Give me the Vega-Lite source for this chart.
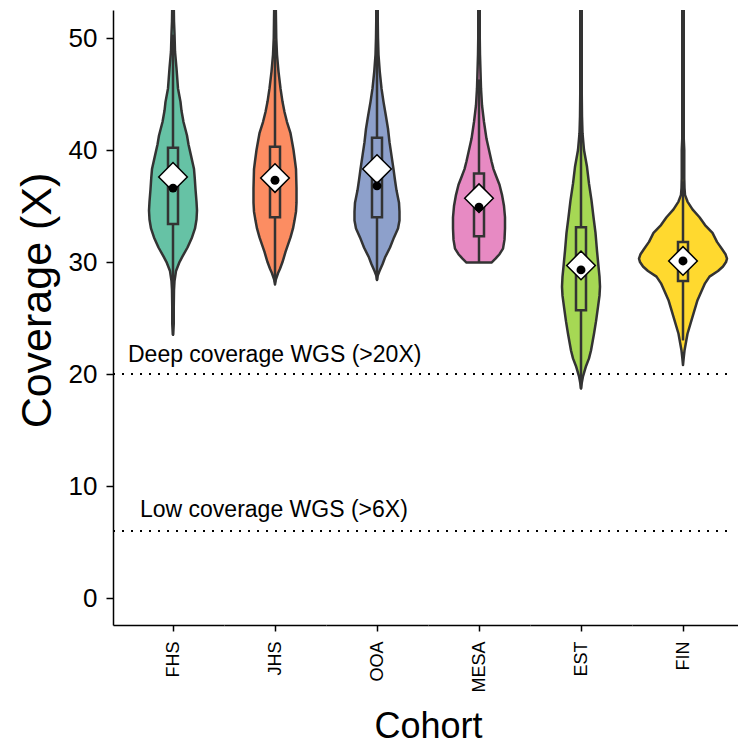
{
  "$schema": "https://vega.github.io/schema/vega-lite/v6.json",
  "padding": {"left": 16, "top": 10, "right": 0, "bottom": 0},
  "spacing": 0,
  "bounds": "flush",
  "config": {
    "font": "Liberation Sans",
    "view": {"stroke": null},
    "axis": {"grid": false},
    "axisX": {"labelAngle": -90, "labelAlign": "right", "labelBaseline": "middle", "labelFontSize": 18, "labelColor": "black", "labelPadding": 10, "tickSize": 6, "tickWidth": 1.5, "tickColor": "black", "domain": true, "domainColor": "black", "domainWidth": 1.5, "labelOverlap": false, "labelFlush": false},
    "axisY": {"labelFontSize": 26, "labelColor": "black", "titleFontSize": 43, "titleColor": "black", "titleFontWeight": "normal", "titlePadding": 9, "titleY": 290, "tickSize": 7, "tickWidth": 1.5, "tickColor": "black", "domainColor": "black", "domainWidth": 1.5, "labelPadding": 9}
  },
  "data": {
    "values": [
      {"kind":"v","cohort":"FHS","cov":23.5,"w":0},{"kind":"v","cohort":"FHS","cov":24.5,"w":1.5},{"kind":"v","cohort":"FHS","cov":26,"w":1.5},{"kind":"v","cohort":"FHS","cov":27.5,"w":2},{"kind":"v","cohort":"FHS","cov":28.3,"w":3},{"kind":"v","cohort":"FHS","cov":29.2,"w":6},{"kind":"v","cohort":"FHS","cov":30.0,"w":13},{"kind":"v","cohort":"FHS","cov":30.5,"w":19},{"kind":"v","cohort":"FHS","cov":31.3,"w":29},{"kind":"v","cohort":"FHS","cov":32.2,"w":38},{"kind":"v","cohort":"FHS","cov":33.0,"w":44},{"kind":"v","cohort":"FHS","cov":33.8,"w":47},{"kind":"v","cohort":"FHS","cov":34.6,"w":48},{"kind":"v","cohort":"FHS","cov":35.4,"w":47},{"kind":"v","cohort":"FHS","cov":36.5,"w":45},{"kind":"v","cohort":"FHS","cov":37.5,"w":43.5},{"kind":"v","cohort":"FHS","cov":38.3,"w":42},{"kind":"v","cohort":"FHS","cov":39.5,"w":36},{"kind":"v","cohort":"FHS","cov":40.5,"w":31},{"kind":"v","cohort":"FHS","cov":41.3,"w":28},{"kind":"v","cohort":"FHS","cov":42.5,"w":21},{"kind":"v","cohort":"FHS","cov":43.5,"w":17},{"kind":"v","cohort":"FHS","cov":44.3,"w":15},{"kind":"v","cohort":"FHS","cov":45.5,"w":10},{"kind":"v","cohort":"FHS","cov":47.3,"w":7},{"kind":"v","cohort":"FHS","cov":48.8,"w":4},{"kind":"v","cohort":"FHS","cov":50.4,"w":3},{"kind":"v","cohort":"FHS","cov":51.5,"w":2},{"kind":"v","cohort":"FHS","cov":53,"w":1.5},{"kind":"v","cohort":"FHS","cov":54,"w":1.5},
      {"kind":"v","cohort":"JHS","cov":28.0,"w":0},{"kind":"v","cohort":"JHS","cov":28.4,"w":1.5},{"kind":"v","cohort":"JHS","cov":29.0,"w":6},{"kind":"v","cohort":"JHS","cov":29.4,"w":10},{"kind":"v","cohort":"JHS","cov":30.0,"w":15},{"kind":"v","cohort":"JHS","cov":30.9,"w":21},{"kind":"v","cohort":"JHS","cov":32.2,"w":31},{"kind":"v","cohort":"JHS","cov":33.0,"w":36},{"kind":"v","cohort":"JHS","cov":33.7,"w":39},{"kind":"v","cohort":"JHS","cov":34.5,"w":42},{"kind":"v","cohort":"JHS","cov":35.3,"w":43},{"kind":"v","cohort":"JHS","cov":36.6,"w":43},{"kind":"v","cohort":"JHS","cov":38.3,"w":42},{"kind":"v","cohort":"JHS","cov":39.0,"w":40},{"kind":"v","cohort":"JHS","cov":40.0,"w":37},{"kind":"v","cohort":"JHS","cov":41.0,"w":33},{"kind":"v","cohort":"JHS","cov":41.5,"w":31},{"kind":"v","cohort":"JHS","cov":42.5,"w":24},{"kind":"v","cohort":"JHS","cov":43.4,"w":19},{"kind":"v","cohort":"JHS","cov":44.3,"w":15},{"kind":"v","cohort":"JHS","cov":45.5,"w":11},{"kind":"v","cohort":"JHS","cov":47.0,"w":7},{"kind":"v","cohort":"JHS","cov":48.5,"w":4},{"kind":"v","cohort":"JHS","cov":50.0,"w":2.5},{"kind":"v","cohort":"JHS","cov":51.5,"w":2},{"kind":"v","cohort":"JHS","cov":53,"w":1.5},{"kind":"v","cohort":"JHS","cov":54,"w":1.5},
      {"kind":"v","cohort":"OOA","cov":28.4,"w":0},{"kind":"v","cohort":"OOA","cov":28.8,"w":1.5},{"kind":"v","cohort":"OOA","cov":29.2,"w":5},{"kind":"v","cohort":"OOA","cov":29.8,"w":11},{"kind":"v","cohort":"OOA","cov":30.4,"w":16},{"kind":"v","cohort":"OOA","cov":31.3,"w":26},{"kind":"v","cohort":"OOA","cov":32.2,"w":34},{"kind":"v","cohort":"OOA","cov":33.0,"w":42},{"kind":"v","cohort":"OOA","cov":33.7,"w":45},{"kind":"v","cohort":"OOA","cov":34.5,"w":45},{"kind":"v","cohort":"OOA","cov":35.3,"w":44},{"kind":"v","cohort":"OOA","cov":36.4,"w":39},{"kind":"v","cohort":"OOA","cov":37.3,"w":36},{"kind":"v","cohort":"OOA","cov":38.3,"w":33},{"kind":"v","cohort":"OOA","cov":39.5,"w":29},{"kind":"v","cohort":"OOA","cov":40.7,"w":25},{"kind":"v","cohort":"OOA","cov":41.9,"w":22},{"kind":"v","cohort":"OOA","cov":43.0,"w":18},{"kind":"v","cohort":"OOA","cov":44.3,"w":13},{"kind":"v","cohort":"OOA","cov":45.5,"w":9},{"kind":"v","cohort":"OOA","cov":47.0,"w":5.5},{"kind":"v","cohort":"OOA","cov":48.5,"w":3},{"kind":"v","cohort":"OOA","cov":50.0,"w":2},{"kind":"v","cohort":"OOA","cov":51.5,"w":1.5},{"kind":"v","cohort":"OOA","cov":54,"w":1.5},
      {"kind":"v","cohort":"MESA","cov":29.95,"w":25},{"kind":"v","cohort":"MESA","cov":30.3,"w":33},{"kind":"v","cohort":"MESA","cov":30.7,"w":41},{"kind":"v","cohort":"MESA","cov":31.2,"w":48},{"kind":"v","cohort":"MESA","cov":32.0,"w":51},{"kind":"v","cohort":"MESA","cov":33.0,"w":52},{"kind":"v","cohort":"MESA","cov":34.0,"w":52},{"kind":"v","cohort":"MESA","cov":35.0,"w":50},{"kind":"v","cohort":"MESA","cov":36.0,"w":46},{"kind":"v","cohort":"MESA","cov":36.9,"w":41},{"kind":"v","cohort":"MESA","cov":37.7,"w":34},{"kind":"v","cohort":"MESA","cov":38.3,"w":29},{"kind":"v","cohort":"MESA","cov":39.0,"w":25},{"kind":"v","cohort":"MESA","cov":39.8,"w":21},{"kind":"v","cohort":"MESA","cov":41.0,"w":15},{"kind":"v","cohort":"MESA","cov":42.5,"w":10},{"kind":"v","cohort":"MESA","cov":44.0,"w":6},{"kind":"v","cohort":"MESA","cov":45.5,"w":4},{"kind":"v","cohort":"MESA","cov":47.0,"w":3},{"kind":"v","cohort":"MESA","cov":48.5,"w":2},{"kind":"v","cohort":"MESA","cov":50,"w":1.5},{"kind":"v","cohort":"MESA","cov":54,"w":1.5},
      {"kind":"v","cohort":"EST","cov":18.7,"w":0},{"kind":"v","cohort":"EST","cov":19.2,"w":1.5},{"kind":"v","cohort":"EST","cov":19.8,"w":4},{"kind":"v","cohort":"EST","cov":20.7,"w":10},{"kind":"v","cohort":"EST","cov":21.4,"w":16},{"kind":"v","cohort":"EST","cov":22.1,"w":20},{"kind":"v","cohort":"EST","cov":23.6,"w":26},{"kind":"v","cohort":"EST","cov":24.7,"w":30},{"kind":"v","cohort":"EST","cov":26.0,"w":34},{"kind":"v","cohort":"EST","cov":27.0,"w":37},{"kind":"v","cohort":"EST","cov":27.8,"w":38},{"kind":"v","cohort":"EST","cov":28.7,"w":37},{"kind":"v","cohort":"EST","cov":29.6,"w":35},{"kind":"v","cohort":"EST","cov":31.0,"w":32},{"kind":"v","cohort":"EST","cov":32.6,"w":29},{"kind":"v","cohort":"EST","cov":34.0,"w":25},{"kind":"v","cohort":"EST","cov":35.5,"w":21},{"kind":"v","cohort":"EST","cov":37.0,"w":16},{"kind":"v","cohort":"EST","cov":38.5,"w":12},{"kind":"v","cohort":"EST","cov":40.0,"w":6},{"kind":"v","cohort":"EST","cov":41.5,"w":3},{"kind":"v","cohort":"EST","cov":43.0,"w":2},{"kind":"v","cohort":"EST","cov":45,"w":1.5},{"kind":"v","cohort":"EST","cov":54,"w":1.5},
      {"kind":"v","cohort":"FIN","cov":20.8,"w":0},{"kind":"v","cohort":"FIN","cov":21.5,"w":1.5},{"kind":"v","cohort":"FIN","cov":22.1,"w":3},{"kind":"v","cohort":"FIN","cov":23.6,"w":9},{"kind":"v","cohort":"FIN","cov":25.1,"w":19},{"kind":"v","cohort":"FIN","cov":26.6,"w":29},{"kind":"v","cohort":"FIN","cov":27.5,"w":38},{"kind":"v","cohort":"FIN","cov":28.1,"w":44},{"kind":"v","cohort":"FIN","cov":28.7,"w":53},{"kind":"v","cohort":"FIN","cov":29.2,"w":70},{"kind":"v","cohort":"FIN","cov":29.6,"w":80},{"kind":"v","cohort":"FIN","cov":30.0,"w":86},{"kind":"v","cohort":"FIN","cov":30.3,"w":88},{"kind":"v","cohort":"FIN","cov":30.7,"w":85},{"kind":"v","cohort":"FIN","cov":31.1,"w":79},{"kind":"v","cohort":"FIN","cov":31.8,"w":68},{"kind":"v","cohort":"FIN","cov":32.6,"w":59},{"kind":"v","cohort":"FIN","cov":33.3,"w":44},{"kind":"v","cohort":"FIN","cov":34.0,"w":33},{"kind":"v","cohort":"FIN","cov":34.7,"w":19},{"kind":"v","cohort":"FIN","cov":35.4,"w":9},{"kind":"v","cohort":"FIN","cov":36.0,"w":4},{"kind":"v","cohort":"FIN","cov":36.6,"w":3},{"kind":"v","cohort":"FIN","cov":37.5,"w":2.5},{"kind":"v","cohort":"FIN","cov":39.0,"w":2.5},{"kind":"v","cohort":"FIN","cov":40.0,"w":2.5},{"kind":"v","cohort":"FIN","cov":41.0,"w":1.5},{"kind":"v","cohort":"FIN","cov":54,"w":1.5},
      {"kind":"b","cohort":"FHS","q1":33.4,"q3":40.2,"med":36.6,"mean":37.6,"lo":23.5,"hi":50.3},
      {"kind":"b","cohort":"JHS","q1":34.0,"q3":40.3,"med":37.3,"mean":37.5,"lo":28.2,"hi":49.8},
      {"kind":"b","cohort":"OOA","q1":34.0,"q3":41.1,"med":36.8,"mean":38.3,"lo":28.4,"hi":51.8},
      {"kind":"b","cohort":"MESA","q1":32.3,"q3":37.9,"med":34.9,"mean":35.7,"lo":30.0,"hi":46.3},
      {"kind":"b","cohort":"EST","q1":25.7,"q3":33.1,"med":29.3,"mean":29.7,"lo":18.7,"hi":44.2},
      {"kind":"b","cohort":"FIN","q1":28.3,"q3":31.8,"med":30.1,"mean":30.1,"lo":23.0,"hi":37.2},
      {"kind":"r","cohort":"FHS","value":20,"label":"Deep coverage WGS (>20X)"},
      {"kind":"r","cohort":"FHS","value":6,"label":"Low coverage WGS (>6X)"}
    ]
  },
  "hconcat": [
    {
      "width": 111, "height": 615,
      "transform": [{"filter": "datum.cohort === 'FHS'"}],
      "layer": [
        {"transform": [{"filter": "datum.kind === 'v'"}],
         "mark": {"type": "area", "orient": "horizontal", "stroke": "#333333", "strokeWidth": 2.5, "strokeJoin": "round", "clip": true, "fill": "#66C2A5", "fillOpacity": 1},
         "encoding": {
           "y": {"field": "cov", "type": "quantitative", "title": "Coverage (X)", "scale": {"domain": [-2.4, 52.5], "nice": false, "zero": false}, "axis": {"values": [0,10,20,30,40,50]}},
           "x": {"field": "w", "type": "quantitative", "stack": "center", "impute": null, "scale": {"domain": [-36, 75], "nice": false, "zero": false}, "axis": {"values": [24], "labelExpr": "'FHS'", "title": null}}}},
        {"transform": [{"filter": "datum.kind === 'r'"}],
         "mark": {"type": "rule", "stroke": "black", "strokeWidth": 2, "strokeDash": [2, 7]},
         "encoding": {"y": {"field": "value", "type": "quantitative", "title": "Coverage (X)"}, "x": {"datum": -36, "type": "quantitative"}, "x2": {"datum": 583}}},
        {"transform": [{"filter": "datum.kind === 'b'"}],
         "mark": {"type": "rule", "stroke": "#333333", "strokeWidth": 2.5},
         "encoding": {"y": {"field": "lo", "type": "quantitative", "title": "Coverage (X)"}, "y2": {"field": "q1"}, "x": {"datum": 24, "type": "quantitative"}}},
        {"transform": [{"filter": "datum.kind === 'b'"}],
         "mark": {"type": "rule", "stroke": "#333333", "strokeWidth": 2.5},
         "encoding": {"y": {"field": "q3", "type": "quantitative", "title": "Coverage (X)"}, "y2": {"field": "hi"}, "x": {"datum": 24, "type": "quantitative"}}},
        {"transform": [{"filter": "datum.kind === 'b'"}],
         "mark": {"type": "rect", "fill": "transparent", "stroke": "#333333", "strokeWidth": 2.5},
         "encoding": {"y": {"field": "q1", "type": "quantitative", "title": "Coverage (X)"}, "y2": {"field": "q3"}, "x": {"datum": 19, "type": "quantitative"}, "x2": {"datum": 29}}},
        {"transform": [{"filter": "datum.kind === 'b'"}],
         "mark": {"type": "point", "shape": "diamond", "filled": true, "fill": "white", "stroke": "black", "strokeWidth": 1.5, "size": 820, "opacity": 1},
         "encoding": {"y": {"field": "mean", "type": "quantitative", "title": "Coverage (X)"}, "x": {"datum": 24, "type": "quantitative"}}},
        {"transform": [{"filter": "datum.kind === 'b'"}],
         "mark": {"type": "point", "shape": "circle", "filled": true, "fill": "black", "size": 80, "opacity": 1},
         "encoding": {"y": {"field": "med", "type": "quantitative", "title": "Coverage (X)"}, "x": {"datum": 24, "type": "quantitative"}}},
        {"transform": [{"filter": "datum.kind === 'r' && datum.value === 20"}],
         "mark": {"type": "text", "align": "left", "baseline": "alphabetic", "dy": -12, "fontSize": 23, "color": "black"},
         "encoding": {"y": {"field": "value", "type": "quantitative", "title": "Coverage (X)"}, "x": {"datum": -21, "type": "quantitative"}, "text": {"field": "label"}}},
        {"transform": [{"filter": "datum.kind === 'r' && datum.value === 6"}],
         "mark": {"type": "text", "align": "left", "baseline": "alphabetic", "dy": -14, "fontSize": 23, "color": "black"},
         "encoding": {"y": {"field": "value", "type": "quantitative", "title": "Coverage (X)"}, "x": {"datum": -9, "type": "quantitative"}, "text": {"field": "label"}}}
      ]
    },
    {
      "width": 102, "height": 615,
      "transform": [{"filter": "datum.cohort === 'JHS'"}],
      "layer": [
        {"transform": [{"filter": "datum.kind === 'v'"}],
         "mark": {"type": "area", "orient": "horizontal", "stroke": "#333333", "strokeWidth": 2.5, "strokeJoin": "round", "clip": true, "fill": "#FC8D62", "fillOpacity": 1},
         "encoding": {
           "y": {"field": "cov", "type": "quantitative", "scale": {"domain": [-2.4, 52.5], "nice": false, "zero": false}, "axis": null},
           "x": {"field": "w", "type": "quantitative", "stack": "center", "impute": null, "scale": {"domain": [-29.5, 72.5], "nice": false, "zero": false}, "axis": {"values": [21.5], "labelExpr": "'JHS'", "title": null}}}},
        {"transform": [{"filter": "datum.kind === 'b'"}],
         "mark": {"type": "rule", "stroke": "#333333", "strokeWidth": 2.5},
         "encoding": {"y": {"field": "lo", "type": "quantitative", "axis": null}, "y2": {"field": "q1"}, "x": {"datum": 21.5, "type": "quantitative"}}},
        {"transform": [{"filter": "datum.kind === 'b'"}],
         "mark": {"type": "rule", "stroke": "#333333", "strokeWidth": 2.5},
         "encoding": {"y": {"field": "q3", "type": "quantitative", "axis": null}, "y2": {"field": "hi"}, "x": {"datum": 21.5, "type": "quantitative"}}},
        {"transform": [{"filter": "datum.kind === 'b'"}],
         "mark": {"type": "rect", "fill": "transparent", "stroke": "#333333", "strokeWidth": 2.5},
         "encoding": {"y": {"field": "q1", "type": "quantitative", "axis": null}, "y2": {"field": "q3"}, "x": {"datum": 16.5, "type": "quantitative"}, "x2": {"datum": 26.5}}},
        {"transform": [{"filter": "datum.kind === 'b'"}],
         "mark": {"type": "point", "shape": "diamond", "filled": true, "fill": "white", "stroke": "black", "strokeWidth": 1.5, "size": 820, "opacity": 1},
         "encoding": {"y": {"field": "mean", "type": "quantitative", "axis": null}, "x": {"datum": 21.5, "type": "quantitative"}}},
        {"transform": [{"filter": "datum.kind === 'b'"}],
         "mark": {"type": "point", "shape": "circle", "filled": true, "fill": "black", "size": 80, "opacity": 1},
         "encoding": {"y": {"field": "med", "type": "quantitative", "axis": null}, "x": {"datum": 21.5, "type": "quantitative"}}}
      ]
    },
    {
      "width": 102, "height": 615,
      "transform": [{"filter": "datum.cohort === 'OOA'"}],
      "layer": [
        {"transform": [{"filter": "datum.kind === 'v'"}],
         "mark": {"type": "area", "orient": "horizontal", "stroke": "#333333", "strokeWidth": 2.5, "strokeJoin": "round", "clip": true, "fill": "#8DA0CB", "fillOpacity": 1},
         "encoding": {
           "y": {"field": "cov", "type": "quantitative", "scale": {"domain": [-2.4, 52.5], "nice": false, "zero": false}, "axis": null},
           "x": {"field": "w", "type": "quantitative", "stack": "center", "impute": null, "scale": {"domain": [-28.5, 73.5], "nice": false, "zero": false}, "axis": {"values": [22.5], "labelExpr": "'OOA'", "title": "Cohort", "titleAnchor": "end", "titleAlign": "center", "titleFontSize": 36, "titleFontWeight": "normal", "titleColor": "black", "titlePadding": 28}}}},
        {"transform": [{"filter": "datum.kind === 'b'"}],
         "mark": {"type": "rule", "stroke": "#333333", "strokeWidth": 2.5},
         "encoding": {"y": {"field": "lo", "type": "quantitative", "axis": null}, "y2": {"field": "q1"}, "x": {"datum": 22.5, "type": "quantitative"}}},
        {"transform": [{"filter": "datum.kind === 'b'"}],
         "mark": {"type": "rule", "stroke": "#333333", "strokeWidth": 2.5},
         "encoding": {"y": {"field": "q3", "type": "quantitative", "axis": null}, "y2": {"field": "hi"}, "x": {"datum": 22.5, "type": "quantitative"}}},
        {"transform": [{"filter": "datum.kind === 'b'"}],
         "mark": {"type": "rect", "fill": "transparent", "stroke": "#333333", "strokeWidth": 2.5},
         "encoding": {"y": {"field": "q1", "type": "quantitative", "axis": null}, "y2": {"field": "q3"}, "x": {"datum": 17.5, "type": "quantitative"}, "x2": {"datum": 27.5}}},
        {"transform": [{"filter": "datum.kind === 'b'"}],
         "mark": {"type": "point", "shape": "diamond", "filled": true, "fill": "white", "stroke": "black", "strokeWidth": 1.5, "size": 820, "opacity": 1},
         "encoding": {"y": {"field": "mean", "type": "quantitative", "axis": null}, "x": {"datum": 22.5, "type": "quantitative"}}},
        {"transform": [{"filter": "datum.kind === 'b'"}],
         "mark": {"type": "point", "shape": "circle", "filled": true, "fill": "black", "size": 80, "opacity": 1},
         "encoding": {"y": {"field": "med", "type": "quantitative", "axis": null}, "x": {"datum": 22.5, "type": "quantitative"}}}
      ]
    },
    {
      "width": 102, "height": 615,
      "transform": [{"filter": "datum.cohort === 'MESA'"}],
      "layer": [
        {"transform": [{"filter": "datum.kind === 'v'"}],
         "mark": {"type": "area", "orient": "horizontal", "stroke": "#333333", "strokeWidth": 2.5, "strokeJoin": "round", "clip": true, "fill": "#E78AC3", "fillOpacity": 1},
         "encoding": {
           "y": {"field": "cov", "type": "quantitative", "scale": {"domain": [-2.4, 52.5], "nice": false, "zero": false}, "axis": null},
           "x": {"field": "w", "type": "quantitative", "stack": "center", "impute": null, "scale": {"domain": [-25, 77], "nice": false, "zero": false}, "axis": {"values": [26], "labelExpr": "'MESA'", "title": null}}}},
        {"transform": [{"filter": "datum.kind === 'b'"}],
         "mark": {"type": "rule", "stroke": "#333333", "strokeWidth": 2.5},
         "encoding": {"y": {"field": "lo", "type": "quantitative", "axis": null}, "y2": {"field": "q1"}, "x": {"datum": 26, "type": "quantitative"}}},
        {"transform": [{"filter": "datum.kind === 'b'"}],
         "mark": {"type": "rule", "stroke": "#333333", "strokeWidth": 2.5},
         "encoding": {"y": {"field": "q3", "type": "quantitative", "axis": null}, "y2": {"field": "hi"}, "x": {"datum": 26, "type": "quantitative"}}},
        {"transform": [{"filter": "datum.kind === 'b'"}],
         "mark": {"type": "rect", "fill": "transparent", "stroke": "#333333", "strokeWidth": 2.5},
         "encoding": {"y": {"field": "q1", "type": "quantitative", "axis": null}, "y2": {"field": "q3"}, "x": {"datum": 21, "type": "quantitative"}, "x2": {"datum": 31}}},
        {"transform": [{"filter": "datum.kind === 'b'"}],
         "mark": {"type": "point", "shape": "diamond", "filled": true, "fill": "white", "stroke": "black", "strokeWidth": 1.5, "size": 820, "opacity": 1},
         "encoding": {"y": {"field": "mean", "type": "quantitative", "axis": null}, "x": {"datum": 26, "type": "quantitative"}}},
        {"transform": [{"filter": "datum.kind === 'b'"}],
         "mark": {"type": "point", "shape": "circle", "filled": true, "fill": "black", "size": 80, "opacity": 1},
         "encoding": {"y": {"field": "med", "type": "quantitative", "axis": null}, "x": {"datum": 26, "type": "quantitative"}}}
      ]
    },
    {
      "width": 102, "height": 615,
      "transform": [{"filter": "datum.cohort === 'EST'"}],
      "layer": [
        {"transform": [{"filter": "datum.kind === 'v'"}],
         "mark": {"type": "area", "orient": "horizontal", "stroke": "#333333", "strokeWidth": 2.5, "strokeJoin": "round", "clip": true, "fill": "#A6D854", "fillOpacity": 1},
         "encoding": {
           "y": {"field": "cov", "type": "quantitative", "scale": {"domain": [-2.4, 52.5], "nice": false, "zero": false}, "axis": null},
           "x": {"field": "w", "type": "quantitative", "stack": "center", "impute": null, "scale": {"domain": [-32, 70], "nice": false, "zero": false}, "axis": {"values": [19], "labelExpr": "'EST'", "title": null}}}},
        {"transform": [{"filter": "datum.kind === 'b'"}],
         "mark": {"type": "rule", "stroke": "#333333", "strokeWidth": 2.5},
         "encoding": {"y": {"field": "lo", "type": "quantitative", "axis": null}, "y2": {"field": "q1"}, "x": {"datum": 19, "type": "quantitative"}}},
        {"transform": [{"filter": "datum.kind === 'b'"}],
         "mark": {"type": "rule", "stroke": "#333333", "strokeWidth": 2.5},
         "encoding": {"y": {"field": "q3", "type": "quantitative", "axis": null}, "y2": {"field": "hi"}, "x": {"datum": 19, "type": "quantitative"}}},
        {"transform": [{"filter": "datum.kind === 'b'"}],
         "mark": {"type": "rect", "fill": "transparent", "stroke": "#333333", "strokeWidth": 2.5},
         "encoding": {"y": {"field": "q1", "type": "quantitative", "axis": null}, "y2": {"field": "q3"}, "x": {"datum": 14, "type": "quantitative"}, "x2": {"datum": 24}}},
        {"transform": [{"filter": "datum.kind === 'b'"}],
         "mark": {"type": "point", "shape": "diamond", "filled": true, "fill": "white", "stroke": "black", "strokeWidth": 1.5, "size": 820, "opacity": 1},
         "encoding": {"y": {"field": "mean", "type": "quantitative", "axis": null}, "x": {"datum": 19, "type": "quantitative"}}},
        {"transform": [{"filter": "datum.kind === 'b'"}],
         "mark": {"type": "point", "shape": "circle", "filled": true, "fill": "black", "size": 80, "opacity": 1},
         "encoding": {"y": {"field": "med", "type": "quantitative", "axis": null}, "x": {"datum": 19, "type": "quantitative"}}}
      ]
    },
    {
      "width": 106, "height": 615,
      "transform": [{"filter": "datum.cohort === 'FIN'"}],
      "layer": [
        {"transform": [{"filter": "datum.kind === 'v'"}],
         "mark": {"type": "area", "orient": "horizontal", "stroke": "#333333", "strokeWidth": 2.5, "strokeJoin": "round", "clip": true, "fill": "#FFD92F", "fillOpacity": 1},
         "encoding": {
           "y": {"field": "cov", "type": "quantitative", "scale": {"domain": [-2.4, 52.5], "nice": false, "zero": false}, "axis": null},
           "x": {"field": "w", "type": "quantitative", "stack": "center", "impute": null, "scale": {"domain": [-7, 99], "nice": false, "zero": false}, "axis": {"values": [44], "labelExpr": "'FIN'", "title": null}}}},
        {"transform": [{"filter": "datum.kind === 'b'"}],
         "mark": {"type": "rule", "stroke": "#333333", "strokeWidth": 2.5},
         "encoding": {"y": {"field": "lo", "type": "quantitative", "axis": null}, "y2": {"field": "q1"}, "x": {"datum": 44, "type": "quantitative"}}},
        {"transform": [{"filter": "datum.kind === 'b'"}],
         "mark": {"type": "rule", "stroke": "#333333", "strokeWidth": 2.5},
         "encoding": {"y": {"field": "q3", "type": "quantitative", "axis": null}, "y2": {"field": "hi"}, "x": {"datum": 44, "type": "quantitative"}}},
        {"transform": [{"filter": "datum.kind === 'b'"}],
         "mark": {"type": "rect", "fill": "transparent", "stroke": "#333333", "strokeWidth": 2.5},
         "encoding": {"y": {"field": "q1", "type": "quantitative", "axis": null}, "y2": {"field": "q3"}, "x": {"datum": 39, "type": "quantitative"}, "x2": {"datum": 49}}},
        {"transform": [{"filter": "datum.kind === 'b'"}],
         "mark": {"type": "point", "shape": "diamond", "filled": true, "fill": "white", "stroke": "black", "strokeWidth": 1.5, "size": 820, "opacity": 1},
         "encoding": {"y": {"field": "mean", "type": "quantitative", "axis": null}, "x": {"datum": 44, "type": "quantitative"}}},
        {"transform": [{"filter": "datum.kind === 'b'"}],
         "mark": {"type": "point", "shape": "circle", "filled": true, "fill": "black", "size": 80, "opacity": 1},
         "encoding": {"y": {"field": "med", "type": "quantitative", "axis": null}, "x": {"datum": 44, "type": "quantitative"}}}
      ]
    }
  ]
}
